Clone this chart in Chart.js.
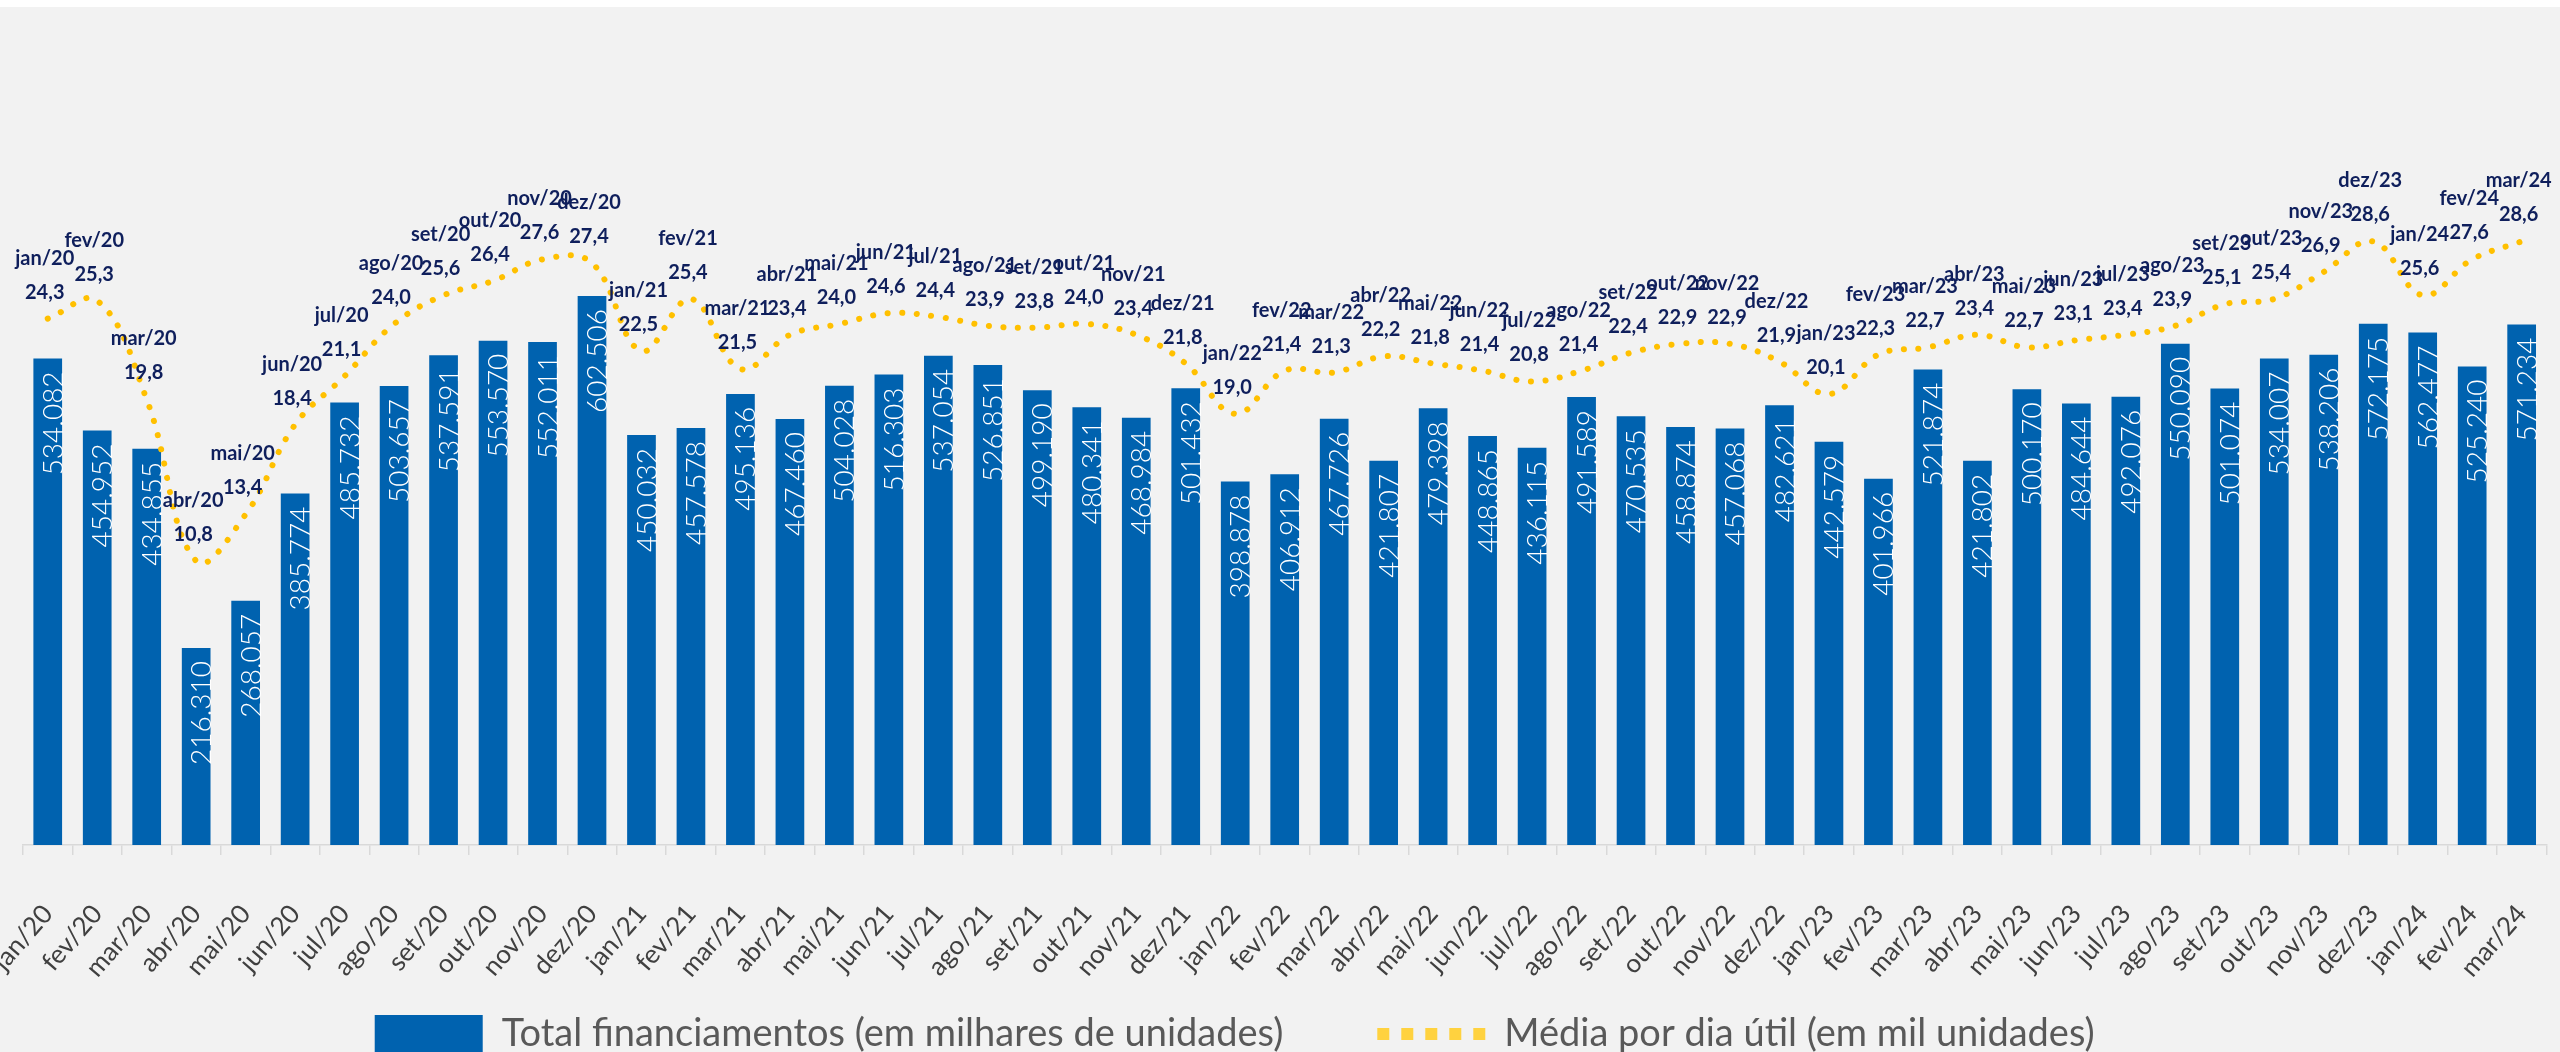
<!DOCTYPE html>
<html>
<head>
<meta charset="utf-8">
<script src="https://cdn.jsdelivr.net/npm/chart.js@4.4.1/dist/chart.umd.min.js"></script>
<style>
html,body{margin:0;padding:0;background:#ffffff;overflow:hidden;width:2560px;height:1052px;}
#wrap{position:absolute;left:0;top:7px;width:2560px;height:1150px;background:#f2f2f2;}
canvas{display:block;}
</style>
</head>
<body>
<div id="wrap"><canvas id="c" width="2560" height="1150"></canvas></div>
<script>
const months = [
  'jan/20','fev/20','mar/20','abr/20','mai/20','jun/20','jul/20','ago/20','set/20','out/20','nov/20','dez/20',
  'jan/21','fev/21','mar/21','abr/21','mai/21','jun/21','jul/21','ago/21','set/21','out/21','nov/21','dez/21',
  'jan/22','fev/22','mar/22','abr/22','mai/22','jun/22','jul/22','ago/22','set/22','out/22','nov/22','dez/22',
  'jan/23','fev/23','mar/23','abr/23','mai/23','jun/23','jul/23','ago/23','set/23','out/23','nov/23','dez/23',
  'jan/24','fev/24','mar/24'
];
const totalFinanciamentos = [
  534082, 454952, 434855, 216310, 268057, 385774, 485732, 503657, 537591, 553570, 552011, 602506,
  450032, 457578, 495136, 467460, 504028, 516303, 537054, 526851, 499190, 480341, 468984, 501432,
  398878, 406912, 467726, 421807, 479398, 448865, 436115, 491589, 470535, 458874, 457068, 482621,
  442579, 401966, 521874, 421802, 500170, 484644, 492076, 550090, 501074, 534007, 538206, 572175,
  562477, 525240, 571234
];
const mediaDiaUtil = [
  24.3, 25.3, 19.8, 10.8, 13.4, 18.4, 21.1, 24.0, 25.6, 26.4, 27.6, 27.4,
  22.5, 25.4, 21.5, 23.4, 24.0, 24.6, 24.4, 23.9, 23.8, 24.0, 23.4, 21.8,
  19.0, 21.4, 21.3, 22.2, 21.8, 21.4, 20.8, 21.4, 22.4, 22.9, 22.9, 21.9,
  20.1, 22.3, 22.7, 23.4, 22.7, 23.1, 23.4, 23.9, 25.1, 25.4, 26.9, 28.6,
  25.6, 27.6, 28.6
];
const seriesNames = ['Total financiamentos (em milhares de unidades)', 'Média por dia útil (em mil unidades)'];

const BAR_COLOR = '#0062af';
const LINE_COLOR = '#ffc000';
const LEGEND_LINE_COLOR = '#ffd23f';
const LABEL_NAVY = '#0f1f5c';
const LEGEND_DX = -50;
const LEGEND_DY = -94;

function fmtThousands(v){ return String(v).replace(/\B(?=(\d{3})+(?!\d))/g, '.'); }
function fmtDecimal(v){ return v.toFixed(1).replace('.', ','); }

const valueLabels = {
  id: 'valueLabels',
  afterDatasetsDraw(chart){
    const ctx = chart.ctx;
    ctx.save();
    const barMeta = chart.getDatasetMeta(0);
    ctx.fillStyle = '#ffffff';
    ctx.font = '300 28px Lato';
    ctx.textAlign = 'right';
    ctx.textBaseline = 'middle';
    barMeta.data.forEach((el, i) => {
      ctx.save();
      ctx.translate(el.x + 6, el.y + 13);
      ctx.rotate(-Math.PI / 2);
      ctx.fillText(fmtThousands(totalFinanciamentos[i]), 0, 0);
      ctx.restore();
    });
    const lineMeta = chart.getDatasetMeta(1);
    ctx.fillStyle = LABEL_NAVY;
    ctx.font = 'bold 20px Lato';
    ctx.textAlign = 'center';
    ctx.textBaseline = 'alphabetic';
    lineMeta.data.forEach((el, i) => {
      ctx.fillText(fmtDecimal(mediaDiaUtil[i]), el.x - 3, el.y - 20);
      ctx.fillText(months[i], el.x - 3, el.y - 54);
    });
    ctx.restore();
  }
};

const legendShift = {
  id: 'legendShift',
  afterLayout(chart){
    const l = chart.legend;
    if (l) { l.left += LEGEND_DX; l.right += LEGEND_DX; l.top += LEGEND_DY; l.bottom += LEGEND_DY; }
  }
};

new Chart(document.getElementById('c'), {
  data: {
    labels: months,
    datasets: [
      {
        type: 'bar',
        label: seriesNames[0],
        data: totalFinanciamentos,
        yAxisID: 'y',
        backgroundColor: BAR_COLOR,
        borderWidth: 0,
        barPercentage: 0.58,
        categoryPercentage: 1.0,
        order: 2
      },
      {
        type: 'line',
        label: seriesNames[1],
        data: mediaDiaUtil,
        yAxisID: 'y1',
        borderColor: LINE_COLOR,
        backgroundColor: LINE_COLOR,
        borderWidth: 6,
        borderDash: [0.1, 14.5],
        borderCapStyle: 'round',
        pointRadius: 0,
        pointHoverRadius: 0,
        tension: 0.4,
        fill: false,
        order: 1
      }
    ]
  },
  options: {
    responsive: false,
    animation: false,
    devicePixelRatio: 1,
    layout: { padding: { left: 23, right: 13.6, top: 18, bottom: 0 } },
    plugins: {
      tooltip: { enabled: false },
      legend: {
        position: 'bottom',
        labels: {
          usePointStyle: true,
          pointStyleWidth: 108,
          boxHeight: 38,
          padding: 94,
          color: '#595959',
          font: { family: 'Lato', size: 38 },
          generateLabels(){
            return [
              { text: seriesNames[0], fillStyle: BAR_COLOR, strokeStyle: BAR_COLOR, lineWidth: 0,
                pointStyle: 'rect', datasetIndex: 0, hidden: false, fontColor: '#595959' },
              { text: seriesNames[1], fillStyle: 'rgba(0,0,0,0)', strokeStyle: LEGEND_LINE_COLOR, lineWidth: 12,
                lineDash: [12, 12], lineCap: 'butt', pointStyle: 'line', datasetIndex: 1, hidden: false, fontColor: '#595959' }
            ];
          }
        }
      }
    },
    scales: {
      x: {
        type: 'category',
        offset: true,
        grid: { display: true, drawOnChartArea: false, offset: true, color: '#d9d9d9', lineWidth: 1.5, tickLength: 10 },
        border: { display: true, color: '#d9d9d9', width: 1.5 },
        ticks: { color: '#404040', font: { family: 'Lato', size: 26 }, minRotation: 49, maxRotation: 49, autoSkip: false, padding: 44 },
        afterFit(s){ s.height = 170; s.paddingLeft = 0; s.paddingRight = 0; }
      },
      y: { display: false, min: 0, max: 900000 },
      y1: { display: false, min: -5.01, max: 40.65 }
    }
  },
  plugins: [valueLabels, legendShift]
});
</script>
</body>
</html>
